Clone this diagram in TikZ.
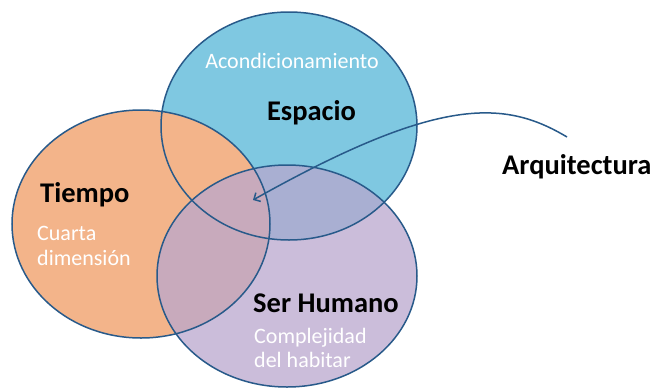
\documentclass[tikz,border=0pt]{standalone}
\usepackage{fontspec}
\setmainfont{Carlito}
\usetikzlibrary{shapes.geometric,arrows.meta}
\definecolor{cblue}{RGB}{127,200,225}
\definecolor{corange}{RGB}{243,180,138}
\definecolor{cpurple}{RGB}{185,167,206}
\definecolor{cline}{RGB}{40,90,138}
\tikzset{
  venn/.style={ellipse, inner sep=0pt, draw=none},
  outl/.style={draw=cline, line width=1.5pt},
  title/.style={font=\bfseries\fontsize{28.5}{30}\selectfont, text=black, inner sep=0pt},
  sub/.style={font=\fontsize{22}{24}\selectfont, text=white, inner sep=0pt},
}
\begin{document}
\begin{tikzpicture}[x=1pt,y=-1pt]
\useasboundingbox (0,0) rectangle (654,389);
\fill[white] (0,0) rectangle (654,389);
% fills
\node[venn, fill=cblue, minimum width=256pt, minimum height=228pt] (esp) at (289,126) {};
\node[venn, fill=corange, minimum width=258pt, minimum height=228pt] (tie) at (141,224) {};
\node[venn, fill=cpurple, fill opacity=0.74, minimum width=260pt, minimum height=222pt] (ser) at (287,276) {};
% outlines
\draw[outl] (esp.center) ellipse [x radius=128, y radius=114];
\draw[outl] (tie.center) ellipse [x radius=129, y radius=114];
\draw[outl] (ser.center) ellipse [x radius=130, y radius=111];
% texts
\node[sub, anchor=base] (acon) at (292,68) {Acondicionamiento};
\node[title, anchor=base] (espt) at (311.5,120) {Espacio};
\node[title, anchor=base west] (tiet) at (40,202) {Tiempo};
\node[sub, anchor=base west] (cu1) at (37,240) {Cuarta};
\node[sub, anchor=base west] (cu2) at (37,265) {dimensión};
\node[title, anchor=base west] (sert) at (253,312) {Ser Humano};
\node[sub, anchor=base west] (co1) at (254,343) {Complejidad};
\node[sub, anchor=base west] (co2) at (254,367) {del habitar};
\node[title, anchor=base west] (arq) at (502,174) {Arquitectura};
% arrow
\coordinate (astart) at (567,137);
\coordinate (atip) at (253,200);
\draw[draw=cline, line width=1.5pt, -{Straight Barb[length=5pt,width=10pt]}]
  (astart) .. controls (505,100) and (440,95) .. (atip);
\end{tikzpicture}
\end{document}
